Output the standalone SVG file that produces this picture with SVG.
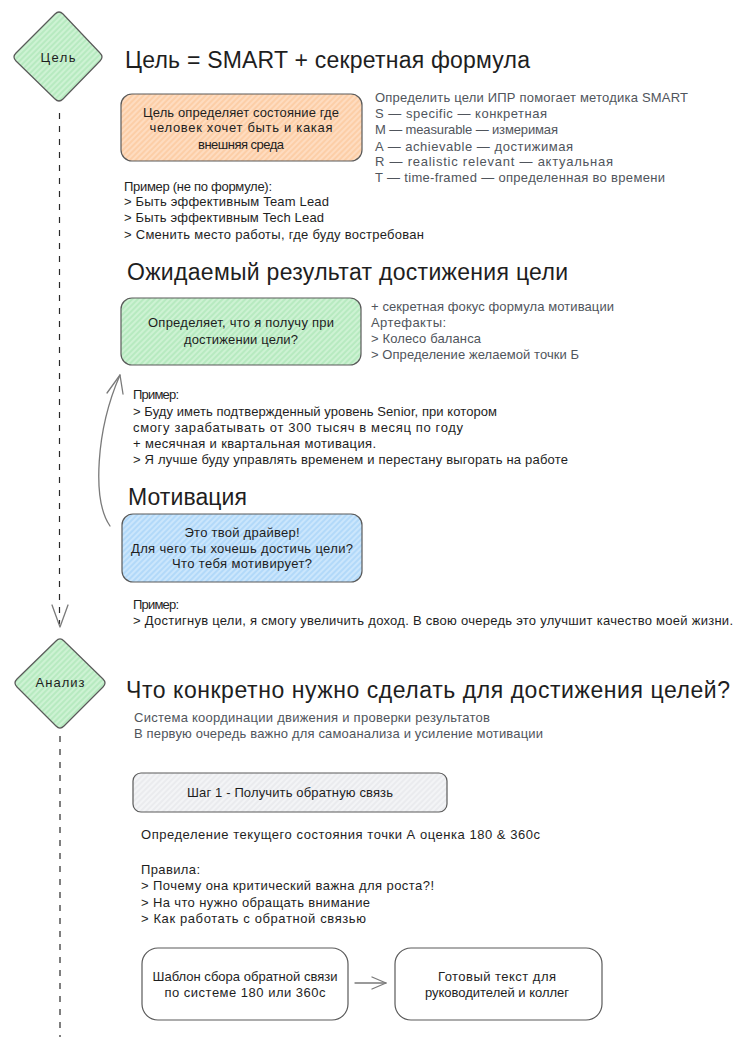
<svg xmlns="http://www.w3.org/2000/svg" width="739" height="1037" viewBox="0 0 739 1037">
<style>
  text { font-family: "Liberation Sans", "Noto Sans", sans-serif; fill: #1e1e1e; }
  .t { font-size: 13px; }
  .g { font-size: 13px; fill: #50555c; }
  .h { font-size: 23px; }
  .lbl { font-size: 13px; text-anchor: middle; }
  .node { stroke: #5a5a5a; stroke-width: 1.2; }
  .conn { fill: none; stroke: #7a7a7a; stroke-width: 1.3; stroke-linecap: round; stroke-linejoin: round; }
  .dash { fill: none; stroke: #2a2a2a; stroke-width: 1.2; stroke-dasharray: 6 7; }
</style>
<defs>
  <pattern id="hG" patternUnits="userSpaceOnUse" width="4" height="4" patternTransform="rotate(45)">
    <rect width="4" height="4" fill="#cdf2d3"/>
    <line x1="1" y1="0" x2="1" y2="4" stroke="#a9e5b3" stroke-width="1.2"/>
  </pattern>
  <pattern id="hO" patternUnits="userSpaceOnUse" width="4" height="4" patternTransform="rotate(45)">
    <rect width="4" height="4" fill="#fedcc0"/>
    <line x1="1" y1="0" x2="1" y2="4" stroke="#fcc597" stroke-width="1.2"/>
  </pattern>
  <pattern id="hB" patternUnits="userSpaceOnUse" width="4" height="4" patternTransform="rotate(45)">
    <rect width="4" height="4" fill="#cbe6fc"/>
    <line x1="1" y1="0" x2="1" y2="4" stroke="#a1d1f7" stroke-width="1.2"/>
  </pattern>
  <pattern id="hY" patternUnits="userSpaceOnUse" width="4" height="4" patternTransform="rotate(45)">
    <rect width="4" height="4" fill="#f3f4f6"/>
    <line x1="1" y1="0" x2="1" y2="4" stroke="#e1e3e7" stroke-width="1"/>
  </pattern>
</defs>
<rect width="739" height="1037" fill="#ffffff"/>

<g id="connectors">
  <line class="dash" x1="59.5" y1="113" x2="59.5" y2="624"/>
  <polyline class="conn" points="52,605 60,627 68,605"/>
  <line class="dash" x1="60" y1="736" x2="60" y2="1037"/>
  <path class="conn" d="M110,526 C92,500 96,430 120,375" stroke="#a6a6a6"/>
  <polyline class="conn" points="107,393 120,375 123,394" stroke="#a6a6a6"/>
  <line class="conn" x1="355" y1="983" x2="386" y2="983"/>
  <polyline class="conn" points="372,977 386,983 372,989"/>
</g>

<g id="node-goal">
  <path class="node" fill="url(#hG)" d="M55,14 Q59,10 63,14 L100,53 Q104,57 100,61 L63,99 Q59,103 55,99 L16,61 Q12,57 16,53 Z"/>
  <text class="lbl" x="58" y="62" font-size="14" textLength="35">Цель</text>
</g>

<g id="title-goal">
  <text class="h" x="125" y="68" textLength="405">Цель = SMART + секретная формула</text>
</g>

<g id="node-goal-def">
  <rect class="node" x="121" y="94" width="241" height="67" rx="11" fill="url(#hO)"/>
  <text class="lbl" x="241" y="117" textLength="196">Цель определяет состояние где</text>
  <text class="lbl" x="241" y="132" textLength="183">человек хочет быть и какая</text>
  <text class="lbl" x="241" y="149" textLength="86">внешняя среда</text>
</g>

<g id="smart-text">
  <text class="g" x="375" y="102" textLength="313">Определить цели ИПР помогает методика SMART</text>
  <text class="g" x="375" y="118" textLength="172">S — specific — конкретная</text>
  <text class="g" x="375" y="134" textLength="183">M — measurable — измеримая</text>
  <text class="g" x="375" y="151" textLength="198">A — achievable — достижимая</text>
  <text class="g" x="375" y="166" textLength="238">R — realistic relevant — актуальная</text>
  <text class="g" x="375" y="182" textLength="290">T — time-framed — определенная во времени</text>
</g>

<g id="goal-example">
  <text class="t" x="124" y="191" textLength="148">Пример (не по формуле):</text>
  <text class="t" x="124" y="206" textLength="205">&gt; Быть эффективным Team Lead</text>
  <text class="t" x="124" y="222" textLength="200">&gt; Быть эффективным Tech Lead</text>
  <text class="t" x="124" y="239" textLength="300">&gt; Сменить место работы, где буду востребован</text>
</g>

<g id="title-result">
  <text class="h" x="127" y="280" textLength="441">Ожидаемый результат достижения цели</text>
</g>

<g id="node-result">
  <rect class="node" x="121" y="298" width="240" height="67" rx="11" fill="url(#hG)"/>
  <text class="lbl" x="241" y="327" textLength="186">Определяет, что я получу при</text>
  <text class="lbl" x="241" y="344" textLength="114">достижении цели?</text>
</g>

<g id="result-text">
  <text class="g" x="371" y="311" textLength="243">+ секретная фокус формула мотивации</text>
  <text class="g" x="371" y="327" textLength="75">Артефакты:</text>
  <text class="g" x="371" y="343" textLength="110">&gt; Колесо баланса</text>
  <text class="g" x="371" y="359" textLength="208">&gt; Определение желаемой точки Б</text>
</g>

<g id="result-example">
  <text class="t" x="133" y="399" textLength="46">Пример:</text>
  <text class="t" x="133" y="416" textLength="364">&gt; Буду иметь подтвержденный уровень Senior, при котором</text>
  <text class="t" x="133" y="432" textLength="330">смогу зарабатывать от 300 тысяч в месяц по году</text>
  <text class="t" x="133" y="448" textLength="243">+ месячная и квартальная мотивация.</text>
  <text class="t" x="133" y="464" textLength="435">&gt; Я лучше буду управлять временем и перестану выгорать на работе</text>
</g>

<g id="title-motivation">
  <text class="h" x="128" y="505" font-size="22" textLength="119">Мотивация</text>
</g>

<g id="node-motivation">
  <rect class="node" x="122" y="514" width="240" height="68" rx="11" fill="url(#hB)"/>
  <text class="lbl" x="242" y="537" textLength="115">Это твой драйвер!</text>
  <text class="lbl" x="242" y="553" textLength="222">Для чего ты хочешь достичь цели?</text>
  <text class="lbl" x="242" y="568" textLength="140">Что тебя мотивирует?</text>
</g>

<g id="motivation-example">
  <text class="t" x="133" y="609" textLength="46">Пример:</text>
  <text class="t" x="133" y="625" textLength="600">&gt; Достигнув цели, я смогу увеличить доход. В свою очередь это улучшит качество моей жизни.</text>
</g>

<g id="node-analysis">
  <path class="node" fill="url(#hG)" d="M56,641 Q60,637 64,641 L103,679 Q107,683 103,687 L64,726 Q60,730 56,726 L17,687 Q13,683 17,679 Z"/>
  <text class="lbl" x="60" y="687" textLength="49">Анализ</text>
</g>

<g id="title-analysis">
  <text class="h" x="126" y="698" textLength="604">Что конкретно нужно сделать для достижения целей?</text>
  <text class="g" x="134" y="722" textLength="356">Система координации движения и проверки результатов</text>
  <text class="g" x="134" y="738" textLength="409">В первую очередь важно для самоанализа и усиление мотивации</text>
</g>

<g id="node-step1">
  <rect class="node" x="133" y="773" width="314" height="39" rx="8" fill="url(#hY)"/>
  <text class="lbl" x="290" y="797" textLength="206">Шаг 1 - Получить обратную связь</text>
</g>

<g id="step1-text">
  <text class="t" x="141" y="839" textLength="399">Определение текущего состояния точки А оценка 180 &amp; 360с</text>
  <text class="t" x="141" y="874" textLength="59">Правила:</text>
  <text class="t" x="141" y="890" textLength="293">&gt; Почему она критический важна для роста?!</text>
  <text class="t" x="141" y="907" textLength="229">&gt; На что нужно обращать внимание</text>
  <text class="t" x="141" y="923" textLength="225">&gt; Как работать с обратной связью</text>
</g>

<g id="node-template">
  <rect class="node" x="142" y="948" width="206" height="72" rx="16" fill="#ffffff"/>
  <text class="lbl" x="245" y="981" textLength="185">Шаблон сбора обратной связи</text>
  <text class="lbl" x="245" y="997" textLength="161">по системе 180 или 360с</text>
</g>

<g id="node-ready-text">
  <rect class="node" x="395" y="948" width="207" height="72" rx="16" fill="#ffffff"/>
  <text class="lbl" x="497" y="981" textLength="118">Готовый текст для</text>
  <text class="lbl" x="497" y="997" textLength="144">руководителей и коллег</text>
</g>
</svg>
